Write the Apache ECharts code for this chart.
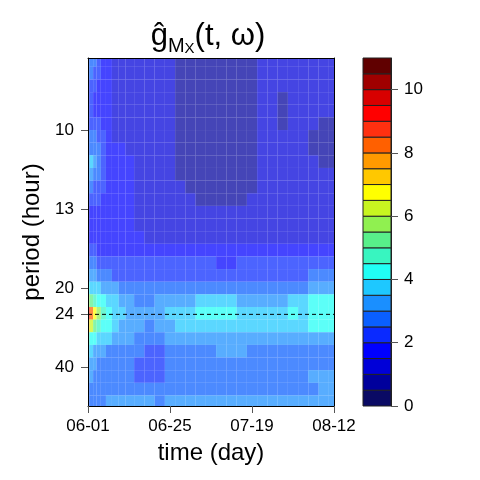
<!DOCTYPE html>
<html>
<head>
<meta charset="utf-8">
<script src="https://cdn.jsdelivr.net/npm/echarts@6/dist/echarts.min.js"></script>
<style>
  html, body { margin: 0; padding: 0; background: #fff; }
  #main { width: 480px; height: 480px; }
</style>
</head>
<body>
<div id="main"></div>
<script>
// time of each estimate column (days after 06-01)
const days = [0, 1, 2, 3, 4.5, 6, 8, 10, 12, 15, 18, 21, 24, 27, 30, 33, 36, 39, 42, 45, 48, 51, 54, 57, 60, 63, 66, 69, 72];
// frequency of each estimate row (cycles / hour), top to bottom
const freqs = [0.122, 0.118, 0.114, 0.110, 0.106, 0.102, 0.098, 0.094, 0.090, 0.086, 0.082, 0.078, 0.074, 0.070,
  0.066, 0.062, 0.058, 0.054, 0.050, 0.046, 0.042, 0.038, 0.034, 0.030, 0.026, 0.022, 0.018, 0.014];
const freqStep = 0.004;

// g-hat(t, w), one row per frequency
const gHat = [
  [2.7, 2.8, 2.6, 2.2, 1.9, 1.7, 1.4, 1.3, 1.3, 1.2, 1.2, 1.1, 1.1, 0.9, 0.8, 0.8, 0.7, 0.7, 0.8, 0.8, 0.9, 1.1, 1.2, 1.2, 1.3, 1.2, 1.2, 1.2, 1.3],
  [2.6, 2.6, 2.4, 2.1, 1.8, 1.7, 1.4, 1.3, 1.3, 1.2, 1.2, 1.1, 1.1, 0.9, 0.8, 0.7, 0.7, 0.7, 0.8, 0.8, 0.9, 1.1, 1.2, 1.2, 1.2, 1.2, 1.1, 1.2, 1.2],
  [2.4, 2.3, 2.1, 1.9, 1.8, 1.6, 1.4, 1.3, 1.3, 1.2, 1.2, 1.1, 1.1, 0.9, 0.8, 0.7, 0.7, 0.7, 0.8, 0.8, 0.9, 1.1, 1.1, 1.1, 1.2, 1.2, 1.1, 1.1, 1.2],
  [2.3, 2.1, 1.9, 1.8, 1.7, 1.6, 1.4, 1.3, 1.3, 1.2, 1.2, 1.1, 1.1, 0.9, 0.8, 0.7, 0.7, 0.7, 0.8, 0.8, 0.9, 1.1, 1.1, 0.9, 1.1, 1.2, 1.1, 1.1, 1.1],
  [2.3, 2.1, 1.9, 1.8, 1.7, 1.6, 1.4, 1.3, 1.3, 1.2, 1.2, 1.1, 1.1, 0.9, 0.8, 0.7, 0.7, 0.7, 0.8, 0.8, 0.9, 1.1, 1.1, 0.8, 1.1, 1.2, 1.1, 1.1, 1.1],
  [2.4, 2.4, 2.3, 2.1, 1.8, 1.6, 1.4, 1.3, 1.3, 1.2, 1.2, 1.1, 1.1, 0.9, 0.8, 0.7, 0.7, 0.7, 0.8, 0.8, 0.9, 1.1, 1.1, 0.8, 1.1, 1.1, 1.1, 0.9, 0.9],
  [2.8, 2.7, 2.6, 2.3, 2.1, 1.8, 1.4, 1.3, 1.3, 1.2, 1.2, 1.1, 1.1, 0.9, 0.8, 0.7, 0.7, 0.7, 0.8, 0.8, 0.9, 1.1, 1.1, 1.1, 1.1, 1.1, 0.9, 0.8, 0.8],
  [2.9, 2.9, 2.8, 2.6, 2.2, 1.9, 1.7, 1.6, 1.4, 1.3, 1.2, 1.1, 1.1, 0.9, 0.8, 0.7, 0.7, 0.7, 0.8, 0.8, 0.9, 1.1, 1.1, 1.2, 1.2, 1.1, 0.9, 0.8, 0.8],
  [3.4, 3.6, 3.2, 2.8, 2.3, 1.9, 1.8, 1.6, 1.6, 1.3, 1.2, 1.1, 1.1, 0.9, 0.8, 0.7, 0.7, 0.7, 0.8, 0.8, 0.9, 1.1, 1.1, 1.2, 1.2, 1.1, 1.1, 0.9, 0.9],
  [3.3, 3.2, 2.9, 2.7, 2.2, 1.9, 1.8, 1.7, 1.6, 1.3, 1.2, 1.1, 1.1, 0.9, 0.8, 0.7, 0.7, 0.7, 0.8, 0.8, 0.9, 1.1, 1.2, 1.2, 1.2, 1.1, 1.1, 1.1, 1.1],
  [2.8, 2.6, 2.4, 2.3, 2.1, 1.9, 1.8, 1.7, 1.6, 1.3, 1.2, 1.1, 1.1, 1.1, 0.9, 0.8, 0.8, 0.8, 0.8, 0.9, 0.9, 1.1, 1.2, 1.2, 1.2, 1.2, 1.2, 1.1, 1.2],
  [2.3, 2.2, 2.1, 2.1, 1.9, 1.8, 1.7, 1.7, 1.6, 1.3, 1.3, 1.2, 1.1, 1.1, 1.1, 0.9, 0.9, 0.9, 0.9, 0.9, 1.1, 1.2, 1.2, 1.3, 1.3, 1.3, 1.3, 1.2, 1.3],
  [1.9, 1.9, 1.8, 1.8, 1.8, 1.7, 1.7, 1.6, 1.6, 1.4, 1.3, 1.2, 1.2, 1.1, 1.1, 1.1, 1.1, 1.1, 1.1, 1.2, 1.2, 1.2, 1.3, 1.3, 1.3, 1.3, 1.3, 1.3, 1.3],
  [1.9, 1.9, 1.9, 1.8, 1.8, 1.7, 1.7, 1.7, 1.6, 1.4, 1.3, 1.3, 1.2, 1.2, 1.2, 1.2, 1.2, 1.2, 1.2, 1.2, 1.3, 1.3, 1.3, 1.3, 1.4, 1.4, 1.4, 1.4, 1.4],
  [1.9, 1.9, 1.9, 1.8, 1.8, 1.8, 1.7, 1.7, 1.7, 1.6, 1.4, 1.4, 1.3, 1.3, 1.3, 1.3, 1.3, 1.3, 1.3, 1.3, 1.4, 1.4, 1.4, 1.4, 1.4, 1.4, 1.4, 1.4, 1.4],
  [2.4, 2.3, 2.1, 1.9, 1.9, 1.8, 1.8, 1.8, 1.8, 1.7, 1.7, 1.6, 1.6, 1.6, 1.6, 1.6, 1.6, 1.6, 1.6, 1.6, 1.6, 1.7, 1.7, 1.7, 1.7, 1.7, 1.8, 1.8, 1.8],
  [2.8, 2.7, 2.6, 2.4, 2.3, 2.2, 2.1, 2.1, 2.1, 2.1, 2.1, 2.1, 2.1, 2.1, 2.1, 2.1, 2.1, 1.9, 1.9, 2.1, 2.1, 2.1, 2.1, 2.1, 2.1, 2.1, 2.2, 2.2, 2.2],
  [3.3, 3.2, 3.1, 2.8, 2.7, 2.6, 2.4, 2.4, 2.3, 2.3, 2.3, 2.3, 2.3, 2.3, 2.3, 2.3, 2.3, 2.3, 2.3, 2.3, 2.3, 2.3, 2.4, 2.4, 2.4, 2.4, 2.6, 2.6, 2.7],
  [4.3, 3.9, 3.8, 3.6, 3.3, 3.2, 3.1, 2.9, 2.8, 2.7, 2.7, 2.8, 2.8, 2.8, 2.8, 2.8, 2.8, 2.8, 2.8, 2.8, 2.8, 2.8, 2.8, 2.9, 2.9, 2.9, 3.1, 3.2, 3.2],
  [5.7, 5.2, 4.7, 4.2, 4.1, 3.8, 3.6, 3.3, 3.1, 2.9, 2.9, 3.1, 3.2, 3.3, 3.4, 3.7, 3.8, 3.8, 3.7, 3.4, 3.3, 3.3, 3.3, 3.4, 3.6, 3.6, 4.1, 4.2, 4.3],
  [9.3, 8.3, 6.8, 5.8, 4.8, 4.2, 3.9, 3.7, 3.3, 3.2, 3.1, 3.2, 3.6, 3.7, 3.9, 4.2, 4.4, 4.4, 4.2, 3.9, 3.8, 3.8, 3.8, 3.9, 4.1, 3.9, 4.2, 4.3, 4.4],
  [7.3, 6.3, 5.3, 4.7, 4.3, 4.1, 3.7, 3.4, 3.3, 3.2, 2.9, 3.1, 3.3, 3.6, 3.7, 3.8, 3.8, 3.8, 3.7, 3.7, 3.6, 3.6, 3.6, 3.7, 3.7, 3.8, 4.1, 4.2, 4.3],
  [4.7, 4.3, 4.1, 3.8, 3.7, 3.6, 3.3, 3.2, 3.1, 2.9, 2.8, 2.9, 3.1, 3.2, 3.3, 3.3, 3.3, 3.4, 3.4, 3.3, 3.2, 3.2, 3.2, 3.3, 3.3, 3.3, 3.4, 3.4, 3.4],
  [3.8, 3.6, 3.4, 3.2, 3.1, 2.9, 2.9, 2.8, 2.8, 2.7, 2.4, 2.4, 2.7, 2.8, 2.9, 2.9, 2.9, 3.1, 3.1, 3.1, 2.9, 2.9, 2.8, 2.8, 2.9, 2.9, 2.9, 2.9, 2.9],
  [3.4, 3.3, 3.1, 2.9, 2.8, 2.8, 2.7, 2.7, 2.6, 2.3, 2.2, 2.3, 2.6, 2.7, 2.7, 2.7, 2.7, 2.8, 2.8, 2.8, 2.7, 2.7, 2.7, 2.7, 2.7, 2.8, 2.8, 2.8, 2.9],
  [3.2, 3.1, 2.9, 2.8, 2.7, 2.7, 2.7, 2.6, 2.6, 2.4, 2.2, 2.4, 2.6, 2.6, 2.7, 2.7, 2.7, 2.7, 2.7, 2.7, 2.7, 2.7, 2.7, 2.8, 2.8, 2.9, 3.1, 3.1, 3.2],
  [2.9, 2.8, 2.8, 2.7, 2.7, 2.7, 2.7, 2.7, 2.7, 2.6, 2.6, 2.6, 2.7, 2.7, 2.7, 2.8, 2.8, 2.8, 2.8, 2.8, 2.8, 2.8, 2.8, 2.9, 2.9, 2.9, 2.9, 3.1, 3.2],
  [2.9, 2.8, 2.8, 2.8, 2.9, 3.1, 3.1, 3.2, 3.2, 3.1, 3.1, 2.9, 3.1, 3.1, 3.2, 3.2, 3.2, 3.1, 3.1, 3.2, 3.2, 3.2, 3.1, 3.2, 3.2, 3.2, 3.3, 3.3, 3.4]
];

// contour levels and their colours
const levels = [0, 0.5, 1, 1.5, 2, 2.5, 3, 3.5, 4, 4.5, 5, 5.5, 6, 6.5, 7, 7.5, 8, 8.5, 9, 9.5, 10, 10.5, 11];
const levelColors = ['#0a0a64', '#00009c', '#0000d8', '#0000ff', '#0a2aff', '#0a5fff', '#1a8fff', '#1ec8ff',
  '#20fff5', '#38f5c0', '#58f08a', '#90f050', '#c8f520', '#ffff00', '#ffc800', '#ff9a00', '#ff6000',
  '#ff3010', '#ff0000', '#d80000', '#a00000', '#600000'];

// axis ticks
const dayTicks = [0, 24, 48, 72];
const dateLabels = ['06-01', '06-25', '07-19', '08-12'];
const periodTicks = [10, 13.33, 20, 24, 40];
const keyTicks = [0, 2, 4, 6, 8, 10];
const refPeriod = 24;

const fMin = 0.01266, fMax = 0.1228;
const font = 'Liberation Sans, Arial, sans-serif';

const cells = [];
freqs.forEach((f, i) => {
  days.forEach((d, j) => {
    const d0 = j === 0 ? d : (days[j - 1] + d) / 2;
    const d1 = j === days.length - 1 ? d : (d + days[j + 1]) / 2;
    cells.push([d, f, gHat[i][j], d0, d1, f - freqStep / 2, f + freqStep / 2]);
  });
});

const keyCells = levels.slice(0, -1).map((lo, k) => [0, lo, levels[k + 1], (lo + levels[k + 1]) / 2]);

const pieces = levelColors.map((c, k) => ({ gte: levels[k], lt: levels[k + 1], color: c }));

function renderCell(params, api) {
  const p0 = api.coord([api.value(3), api.value(6)]);
  const p1 = api.coord([api.value(4), api.value(5)]);
  const cs = params.coordSys;
  const rect = echarts.graphic.clipRectByRect(
    { x: p0[0], y: p0[1], width: p1[0] - p0[0], height: p1[1] - p0[1] },
    { x: cs.x, y: cs.y, width: cs.width, height: cs.height }
  );
  return rect && { type: 'rect', shape: rect, style: { fill: api.visual('color'), opacity: 0.73 } };
}

function renderKey(params, api) {
  const p0 = api.coord([0, api.value(2)]);
  const p1 = api.coord([1, api.value(1)]);
  return {
    type: 'rect',
    shape: { x: p0[0], y: p0[1], width: p1[0] - p0[0], height: p1[1] - p0[1] },
    style: { fill: api.visual('color'), stroke: '#222', lineWidth: 1 }
  };
}

const chart = echarts.init(document.getElementById('main'), null, { renderer: 'canvas' });

chart.setOption({
  animation: false,
  backgroundColor: '#fff',
  textStyle: { fontFamily: font },
  graphic: [{
    type: 'text',
    x: 208,
    y: 36,
    style: {
      text: '{a|ĝ}{b|M}{c|X}{a|(t, ω)}',
      align: 'center',
      verticalAlign: 'middle',
      fill: '#000',
      rich: {
        a: { fontSize: 31, lineHeight: 40, fontFamily: font },
        b: { fontSize: 20, lineHeight: 19, verticalAlign: 'bottom', fontFamily: font },
        c: { fontSize: 15, lineHeight: 10, verticalAlign: 'bottom', fontFamily: font }
      }
    }
  }],
  grid: [
    { left: 88, top: 58, width: 246, height: 348 },
    { left: 363, top: 58, width: 28, height: 348 }
  ],
  xAxis: [
    {
      gridIndex: 0, type: 'value', min: 0, max: 72, interval: 24, position: 'bottom', z: 10,
      axisLine: { onZero: false, lineStyle: { color: '#000', width: 1 } },
      axisTick: { length: 7, lineStyle: { color: '#555' } },
      axisLabel: { fontSize: 17, color: '#000', margin: 12, formatter: (v) => dateLabels[dayTicks.indexOf(v)] },
      splitLine: { show: false },
      name: 'time (day)', nameLocation: 'middle', nameGap: 35,
      nameTextStyle: { fontSize: 24, color: '#000' }
    },
    {
      gridIndex: 0, type: 'value', min: 0, max: 72, position: 'top', z: 10,
      axisLine: { onZero: false, lineStyle: { color: '#000' } },
      axisTick: { show: false }, axisLabel: { show: false }, splitLine: { show: false }
    },
    { gridIndex: 1, type: 'value', min: 0, max: 1, show: false }
  ],
  yAxis: [
    {
      gridIndex: 0, type: 'value', min: fMin, max: fMax, z: 10,
      axisLine: { onZero: false, lineStyle: { color: '#000' } },
      axisTick: { length: 7, lineStyle: { color: '#555' }, customValues: periodTicks.map((p) => 1 / p) },
      axisLabel: {
        fontSize: 17, color: '#000', margin: 14,
        customValues: periodTicks.map((p) => 1 / p),
        formatter: (v) => String(Math.round(1 / v))
      },
      splitLine: { show: false },
      name: 'period (hour)', nameLocation: 'middle', nameGap: 39,
      nameTextStyle: { fontSize: 24, color: '#000' }
    },
    {
      gridIndex: 0, type: 'value', min: fMin, max: fMax, position: 'right', z: 10,
      axisLine: { show: true, onZero: false, lineStyle: { color: '#000' } },
      axisTick: { show: false }, axisLabel: { show: false }, splitLine: { show: false }
    },
    {
      gridIndex: 1, type: 'value', min: 0, max: 11, position: 'right', z: 10,
      axisLine: { show: true, onZero: false, lineStyle: { color: '#222' } },
      axisTick: { length: 7, lineStyle: { color: '#555' }, customValues: keyTicks },
      axisLabel: { fontSize: 17, color: '#000', margin: 13, customValues: keyTicks },
      splitLine: { show: false }
    }
  ],
  visualMap: [
    { type: 'piecewise', show: false, seriesIndex: 0, dimension: 2, pieces: pieces },
    { type: 'piecewise', show: false, seriesIndex: 2, dimension: 3, pieces: pieces }
  ],
  series: [
    {
      type: 'custom', xAxisIndex: 0, yAxisIndex: 0, silent: true,
      renderItem: renderCell, encode: { x: 0, y: 1 }, data: cells
    },
    {
      type: 'line', xAxisIndex: 0, yAxisIndex: 0, silent: true, symbol: 'none', z: 5,
      lineStyle: { color: '#000', width: 1, type: [4, 3] },
      data: [[days[0], 1 / refPeriod], [days[days.length - 1], 1 / refPeriod]]
    },
    {
      type: 'custom', xAxisIndex: 2, yAxisIndex: 2, silent: true,
      renderItem: renderKey, encode: { x: 0, y: [1, 2] }, data: keyCells
    }
  ]
});
</script>
</body>
</html>
